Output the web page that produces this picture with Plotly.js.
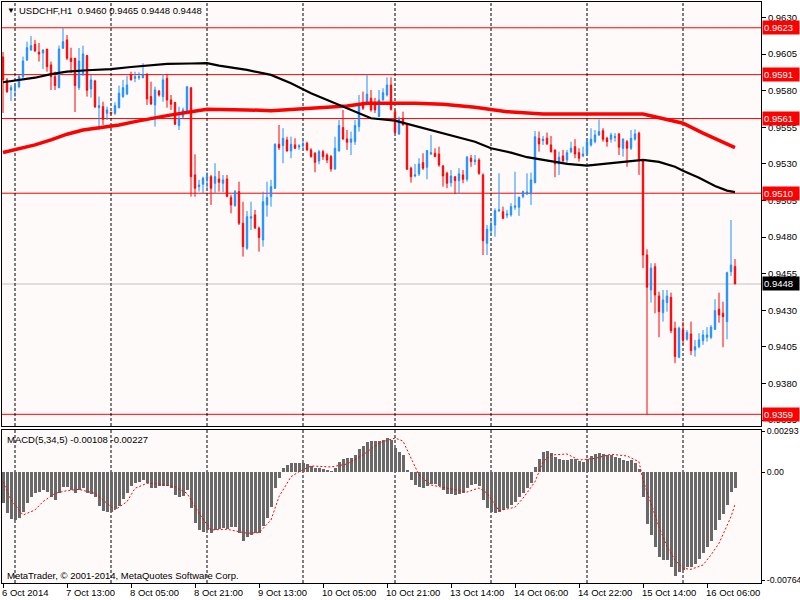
<!DOCTYPE html>
<html><head><meta charset="utf-8">
<script src="https://cdn.plot.ly/plotly-3.0.1.min.js"></script>
<style>html,body{margin:0;padding:0;background:#fff}#chart{width:800px;height:600px}</style>
</head><body><div id="chart"></div>
<script>
const open = [0.96031,0.95874,0.95805,0.95822,0.95828,0.95896,0.96010,0.96079,0.96117,0.96063,
0.96058,0.96085,0.95976,0.95896,0.95821,0.96090,0.96147,0.96022,0.96022,0.95821,
0.95908,0.96040,0.95812,0.95867,0.95684,0.95691,0.95646,0.95653,0.95646,0.95684,
0.95760,0.95778,0.95908,0.95885,0.95889,0.95889,0.95913,0.95760,0.95703,0.95798,
0.95760,0.95885,0.95737,0.95721,0.95562,0.95623,0.95653,0.95821,0.95225,0.95145,
0.95161,0.95202,0.95213,0.95168,0.95197,0.95168,0.95197,0.95070,0.95015,0.95111,
0.94895,0.94724,0.94929,0.94952,0.94861,0.94781,0.95020,0.95077,0.95134,0.95434,
0.95425,0.95464,0.95389,0.95430,0.95416,0.95425,0.95441,0.95396,0.95373,0.95320,
0.95384,0.95361,0.95350,0.95266,0.95389,0.95548,0.95471,0.95448,0.95452,0.95555,
0.95721,0.95708,0.95749,0.95717,0.95623,0.95737,0.95771,0.95839,0.95657,0.95505,
0.95612,0.95573,0.95271,0.95218,0.95232,0.95309,0.95277,0.95368,0.95373,0.95368,
0.95286,0.95236,0.95172,0.95213,0.95186,0.95225,0.95195,0.95339,0.95316,0.95327,
0.95225,0.94758,0.94844,0.94883,0.94979,0.94974,0.94950,0.94952,0.95004,0.95004,
0.95077,0.95095,0.95095,0.95172,0.95475,0.95459,0.95475,0.95430,0.95396,0.95300,
0.95355,0.95327,0.95384,0.95418,0.95377,0.95355,0.95368,0.95430,0.95452,0.95498,
0.95527,0.95475,0.95469,0.95480,0.95505,0.95407,0.95452,0.95407,0.95469,0.95510,
0.95322,0.94678,0.94439,0.94598,0.94398,0.94284,0.94353,0.94389,0.94178,0.93980,
0.94166,0.94103,0.94139,0.94029,0.94052,0.94093,0.94116,0.94116,0.94171,0.94308,
0.94280,0.94223,0.94564,0.94600];
const high = [0.96065,0.95887,0.95839,0.95839,0.95908,0.96033,0.96135,0.96174,0.96147,0.96126,
0.96079,0.96085,0.95999,0.95930,0.96108,0.96227,0.96181,0.96094,0.96024,0.96092,
0.96108,0.96044,0.95908,0.95874,0.95760,0.95725,0.95691,0.95655,0.95721,0.95835,
0.95874,0.95903,0.95930,0.95930,0.95926,0.95988,0.95919,0.95862,0.95828,0.95805,
0.95913,0.95913,0.95771,0.95721,0.95691,0.95684,0.95828,0.95821,0.95366,0.95191,
0.95213,0.95243,0.95225,0.95305,0.95252,0.95225,0.95225,0.95088,0.95122,0.95179,
0.95042,0.94979,0.95042,0.94986,0.94872,0.95111,0.95179,0.95191,0.95441,0.95566,
0.95544,0.95486,0.95486,0.95475,0.95434,0.95464,0.95452,0.95407,0.95380,0.95396,
0.95396,0.95373,0.95361,0.95486,0.95600,0.95669,0.95532,0.95521,0.95600,0.95771,
0.95794,0.95910,0.95805,0.95751,0.95805,0.95817,0.95892,0.95892,0.95669,0.95623,
0.95657,0.95578,0.95281,0.95300,0.95339,0.95373,0.95391,0.95498,0.95407,0.95418,
0.95293,0.95247,0.95259,0.95213,0.95271,0.95259,0.95355,0.95361,0.95361,0.95339,
0.95236,0.94883,0.94922,0.94997,0.95236,0.95008,0.94986,0.95032,0.95247,0.95077,
0.95118,0.95236,0.95241,0.95525,0.95521,0.95491,0.95514,0.95491,0.95396,0.95384,
0.95396,0.95396,0.95452,0.95469,0.95407,0.95418,0.95469,0.95544,0.95532,0.95605,
0.95544,0.95486,0.95514,0.95510,0.95510,0.95475,0.95464,0.95532,0.95537,0.95521,
0.95327,0.94717,0.94622,0.94622,0.94428,0.94439,0.94439,0.94421,0.94223,0.94189,
0.94223,0.94166,0.94223,0.94098,0.94144,0.94166,0.94185,0.94200,0.94376,0.94421,
0.94359,0.94564,0.94917,0.94650];
const low = [0.95648,0.95785,0.95730,0.95758,0.95817,0.95885,0.96003,0.96072,0.96065,0.95999,
0.95949,0.95930,0.95805,0.95805,0.95817,0.96085,0.96010,0.95921,0.95655,0.95805,
0.95903,0.95760,0.95753,0.95682,0.95532,0.95566,0.95600,0.95639,0.95635,0.95680,
0.95751,0.95771,0.95870,0.95858,0.95874,0.95885,0.95703,0.95703,0.95555,0.95760,
0.95725,0.95684,0.95669,0.95566,0.95532,0.95612,0.95646,0.95077,0.95077,0.95111,
0.95100,0.95134,0.95020,0.95100,0.95111,0.95107,0.95077,0.94963,0.95008,0.94883,
0.94667,0.94713,0.94849,0.94861,0.94701,0.94735,0.94940,0.95008,0.95129,0.95396,
0.95305,0.95384,0.95339,0.95402,0.95396,0.95407,0.95389,0.95343,0.95243,0.95298,
0.95327,0.95305,0.95247,0.95259,0.95384,0.95464,0.95396,0.95361,0.95430,0.95521,
0.95669,0.95703,0.95657,0.95648,0.95621,0.95732,0.95760,0.95664,0.95510,0.95498,
0.95563,0.95259,0.95172,0.95209,0.95218,0.95259,0.95195,0.95361,0.95346,0.95281,
0.95145,0.95134,0.95145,0.95095,0.95095,0.95168,0.95179,0.95281,0.95293,0.95225,
0.94678,0.94678,0.94815,0.94803,0.94974,0.94922,0.94929,0.94940,0.94986,0.94945,
0.95066,0.95088,0.95020,0.95168,0.95384,0.95430,0.95430,0.95377,0.95209,0.95225,
0.95309,0.95305,0.95373,0.95339,0.95316,0.95346,0.95361,0.95418,0.95441,0.95491,
0.95452,0.95418,0.95445,0.95452,0.95361,0.95350,0.95281,0.95396,0.95459,0.95225,
0.94588,0.93590,0.94353,0.94280,0.94116,0.94223,0.94291,0.94144,0.93939,0.93973,
0.94064,0.94093,0.93995,0.93984,0.94041,0.94064,0.94086,0.94103,0.94166,0.94216,
0.94048,0.94103,0.94535,0.94480];
const close = [0.95874,0.95794,0.95821,0.95828,0.95896,0.96003,0.96094,0.96108,0.96072,0.96051,
0.96079,0.95964,0.95896,0.95835,0.96085,0.96135,0.96022,0.95999,0.95835,0.96003,
0.96051,0.95803,0.95874,0.95691,0.95698,0.95605,0.95669,0.95641,0.95698,0.95783,
0.95821,0.95839,0.95874,0.95896,0.95896,0.95908,0.95744,0.95710,0.95805,0.95771,
0.95874,0.95737,0.95708,0.95571,0.95612,0.95669,0.95828,0.95213,0.95134,0.95156,
0.95202,0.95213,0.95134,0.95213,0.95175,0.95191,0.95077,0.95020,0.95111,0.94895,
0.94735,0.94940,0.94940,0.94861,0.94797,0.95042,0.95070,0.95145,0.95434,0.95411,
0.95475,0.95389,0.95434,0.95407,0.95423,0.95434,0.95396,0.95350,0.95311,0.95384,
0.95350,0.95327,0.95266,0.95407,0.95562,0.95471,0.95448,0.95471,0.95562,0.95714,
0.95680,0.95776,0.95669,0.95669,0.95737,0.95787,0.95839,0.95673,0.95514,0.95612,
0.95566,0.95264,0.95213,0.95225,0.95300,0.95271,0.95391,0.95377,0.95350,0.95293,
0.95218,0.95168,0.95218,0.95186,0.95232,0.95195,0.95346,0.95316,0.95327,0.95236,
0.94776,0.94854,0.94876,0.94981,0.94986,0.94929,0.94958,0.95008,0.95013,0.95072,
0.95111,0.95109,0.95191,0.95486,0.95437,0.95469,0.95437,0.95384,0.95300,0.95346,
0.95322,0.95377,0.95407,0.95368,0.95339,0.95368,0.95452,0.95469,0.95498,0.95521,
0.95469,0.95452,0.95498,0.95486,0.95414,0.95469,0.95407,0.95475,0.95505,0.95322,
0.94678,0.94458,0.94588,0.94405,0.94291,0.94371,0.94398,0.94161,0.93984,0.94178,
0.94098,0.94148,0.94025,0.94052,0.94098,0.94132,0.94132,0.94185,0.94298,0.94269,
0.94257,0.94557,0.94610,0.94480];

// moving averages, read at sample bars
const redMaBar = [0,4,8,12,16,20,24,29,33,37,41,47,51,61,67,73,79,86,91,103,110,118,126,135,160,165,170,175,179,183];
const redMaVal = [0.95378,0.95402,0.95430,0.95464,0.95503,0.95532,0.95548,0.95566,0.95589,0.95612,0.95630,0.95657,0.95673,0.95669,0.95664,0.95673,0.95684,0.95696,0.95714,0.95714,0.95708,0.95687,0.95657,0.95641,0.95641,0.95612,0.95578,0.95510,0.95459,0.95411];
const blackMaBar = [0,4,8,12,16,21,27,32,37,41,47,51,54,61,67,72,77,82,87,92,98,103,108,113,118,122,127,131,135,141,146,153,160,164,168,170,174,178,181,183];
const blackMaVal = [0.95858,0.95874,0.95889,0.95913,0.95930,0.95940,0.95947,0.95962,0.95971,0.95983,0.95986,0.95988,0.95971,0.95942,0.95908,0.95851,0.95783,0.95725,0.95669,0.95612,0.95596,0.95559,0.95527,0.95486,0.95452,0.95407,0.95377,0.95346,0.95327,0.95300,0.95288,0.95309,0.95327,0.95314,0.95281,0.95254,0.95206,0.95150,0.95118,0.95107];

// MACD(5,34,5)
const macdHist = [-0.00216,-0.00286,-0.00333,-0.00338,-0.00326,-0.00279,-0.00216,-0.00177,-0.00149,-0.00138,
-0.00125,-0.00138,-0.00173,-0.00196,-0.00149,-0.00102,-0.00102,-0.00125,-0.00145,-0.00125,
-0.00113,-0.00149,-0.00154,-0.00177,-0.00239,-0.00272,-0.00279,-0.00279,-0.00262,-0.00239,
-0.00191,-0.00145,-0.00097,-0.00078,-0.00067,-0.00055,-0.00074,-0.00113,-0.00113,-0.00097,
-0.00097,-0.00097,-0.00113,-0.00161,-0.00177,-0.00168,-0.00125,-0.00255,-0.00357,-0.00409,
-0.00421,-0.00409,-0.00428,-0.00409,-0.00404,-0.00397,-0.00404,-0.00386,-0.00390,-0.00432,
-0.00485,-0.00457,-0.00445,-0.00432,-0.00432,-0.00381,-0.00326,-0.00244,-0.00113,-0.00043,
0.00028,0.00052,0.00068,0.00068,0.00068,0.00066,0.00059,0.00045,0.00030,0.00030,
0.00023,0.00016,0.00009,0.00030,0.00073,0.00094,0.00101,0.00101,0.00123,0.00165,
0.00186,0.00215,0.00222,0.00222,0.00222,0.00229,0.00243,0.00229,0.00172,0.00144,
0.00123,0.00016,-0.00055,-0.00090,-0.00104,-0.00111,-0.00097,-0.00083,-0.00083,-0.00097,
-0.00125,-0.00154,-0.00154,-0.00161,-0.00154,-0.00147,-0.00111,-0.00090,-0.00083,-0.00097,
-0.00196,-0.00253,-0.00281,-0.00289,-0.00281,-0.00267,-0.00255,-0.00232,-0.00208,-0.00177,
-0.00145,-0.00113,-0.00074,0.00040,0.00094,0.00142,0.00151,0.00135,0.00106,0.00092,
0.00087,0.00087,0.00092,0.00092,0.00082,0.00075,0.00092,0.00116,0.00130,0.00135,
0.00130,0.00123,0.00123,0.00111,0.00099,0.00087,0.00082,0.00087,0.00068,0.00021,
-0.00177,-0.00367,-0.00445,-0.00532,-0.00603,-0.00622,-0.00622,-0.00669,-0.00733,-0.00705,
-0.00693,-0.00669,-0.00669,-0.00650,-0.00617,-0.00574,-0.00532,-0.00485,-0.00409,-0.00338,
-0.00296,-0.00232,-0.00138,-0.00108];
const signalBar = [0,2,5,8,10,13,16,19,23,26,28,31,33,36,39,43,46,49,52,56,61,64,67,69,72,74,77,82,86,90,94,98,100,102,104,107,112,116,119,121,124,128,130,133,135,137,141,144,148,152,156,159,160,162,164,166,168,170,172,175,177,179,182,183];
const signalVal = [-0.00067,-0.00196,-0.00303,-0.00267,-0.00208,-0.00149,-0.00130,-0.00121,-0.00149,-0.00220,-0.00267,-0.00208,-0.00113,-0.00078,-0.00083,-0.00102,-0.00149,-0.00291,-0.00409,-0.00404,-0.00432,-0.00428,-0.00338,-0.00173,-0.00031,0.00004,0.00045,0.00038,0.00059,0.00123,0.00208,0.00243,0.00222,0.00101,-0.00019,-0.00090,-0.00118,-0.00140,-0.00111,-0.00147,-0.00272,-0.00248,-0.00184,-0.00067,0.00075,0.00123,0.00130,0.00087,0.00099,0.00128,0.00116,0.00075,-0.00055,-0.00220,-0.00386,-0.00527,-0.00622,-0.00681,-0.00688,-0.00657,-0.00586,-0.00503,-0.00315,-0.00227];

// axes / labels
const xTickBars = [0,16,32,48,64,80,96,112,128,144,160,176];
const xTickLabels = ['6 Oct 2014','7 Oct 13:00','8 Oct 05:00','8 Oct 21:00','9 Oct 13:00','10 Oct 05:00','10 Oct 21:00','13 Oct 14:00','14 Oct 06:00','14 Oct 22:00','15 Oct 14:00','16 Oct 06:00'];
const daySepBars = [3,27,51,75,98,122,146,170];
const priceTicks = [0.9630,0.9605,0.9580,0.9555,0.9530,0.9505,0.9480,0.9455,0.9430,0.9405,0.9380,0.9355];
const levels = [0.9623,0.9591,0.9561,0.9510,0.9359];
const bidPrice = 0.9448;
const macdTicks = [0.00293,0,-0.00764];
const macdTickText = ['0.00293','0.00','-0.00764'];
const headerText = 'USDCHF,H1  0.9460 0.9465 0.9448 0.9448';
const macdText = 'MACD(5,34,5) -0.00108 -0.00227';
const copyText = 'MetaTrader, \u00A9 2001-2014, MetaQuotes Software Corp.';

const bars = open.map((_, i) => i);
const FONT = 'Liberation Sans, Arial, sans-serif';
const FS = 9.5;

const traces = [
  {type:'candlestick', x:bars, open:open, high:high, low:low, close:close, xaxis:'x', yaxis:'y',
   increasing:{line:{color:'#1E90FF', width:1}, fillcolor:'#1E90FF'},
   decreasing:{line:{color:'#FF0000', width:1}, fillcolor:'#FF0000'},
   whiskerwidth:0, hoverinfo:'skip'},
  {type:'scatter', mode:'lines', x:redMaBar, y:redMaVal, xaxis:'x', yaxis:'y', line:{color:'#FF0000', width:3.5}, hoverinfo:'skip'},
  {type:'scatter', mode:'lines', x:blackMaBar, y:blackMaVal, xaxis:'x', yaxis:'y', line:{color:'#000000', width:2.2}, hoverinfo:'skip'},
  {type:'bar', x:bars, y:macdHist, xaxis:'x2', yaxis:'y2', width:0.75, marker:{color:'#696969', line:{width:0}}, hoverinfo:'skip'},
  {type:'scatter', mode:'lines', x:signalBar, y:signalVal, xaxis:'x2', yaxis:'y2', line:{color:'#FF0000', width:1, dash:'2px,2px'}, hoverinfo:'skip'}
];

const shapes = [];
levels.forEach(v => shapes.push({type:'line', layer:'below', xref:'paper', x0:0, x1:1, yref:'y', y0:v, y1:v, line:{color:'#FF0000', width:1}}));
shapes.push({type:'line', layer:'below', xref:'paper', x0:0, x1:1, yref:'y', y0:bidPrice, y1:bidPrice, line:{color:'#C0C0C0', width:1}});
daySepBars.forEach(b => {
  shapes.push({type:'line', layer:'below', xref:'x', x0:b, x1:b, yref:'y domain', y0:0, y1:1, line:{color:'#000000', width:1, dash:'3px,2px'}});
  shapes.push({type:'line', layer:'below', xref:'x2', x0:b, x1:b, yref:'y2 domain', y0:0, y1:1, line:{color:'#000000', width:1, dash:'3px,2px'}});
});

const annotations = [];
annotations.push({xref:'paper', yref:'paper', x:0, y:1, xanchor:'left', yanchor:'middle', xshift:3, yshift:-8, text:'\u25BC', showarrow:false, font:{family:FONT, size:8, color:'#000'}});
annotations.push({xref:'paper', yref:'paper', x:0, y:1, xanchor:'left', yanchor:'middle', xshift:15, yshift:-8, text:headerText, showarrow:false, font:{family:FONT, size:FS, color:'#000'}});
annotations.push({xref:'paper', yref:'paper', x:0, y:0.2633, xanchor:'left', yanchor:'middle', xshift:3, yshift:-9, text:macdText, showarrow:false, font:{family:FONT, size:FS, color:'#000'}});
annotations.push({xref:'paper', yref:'paper', x:0, y:0, xanchor:'left', yanchor:'middle', xshift:3, yshift:8, text:copyText, showarrow:false, font:{family:FONT, size:FS, color:'#000'}});
xTickBars.forEach((b, k) => annotations.push({xref:'x2', yref:'paper', x:b, y:0, xanchor:'left', yanchor:'top', xshift:-3, yshift:-2, text:xTickLabels[k], showarrow:false, font:{family:FONT, size:FS, color:'#000'}}));
levels.forEach(v => annotations.push({xref:'paper', yref:'y', x:1, y:v, xanchor:'left', yanchor:'middle', xshift:1, text:v.toFixed(4), showarrow:false, bgcolor:'#FF0000', borderpad:1, width:34, align:'left', font:{family:FONT, size:FS, color:'#FFFFFF'}}));
annotations.push({xref:'paper', yref:'y', x:1, y:bidPrice, xanchor:'left', yanchor:'middle', xshift:1, text:bidPrice.toFixed(4), showarrow:false, bgcolor:'#000000', borderpad:1, width:34, align:'left', font:{family:FONT, size:FS, color:'#FFFFFF'}});

const layout = {
  width:800, height:600,
  margin:{l:2, r:39, t:2, b:17, pad:0},
  paper_bgcolor:'#FFFFFF', plot_bgcolor:'#FFFAFA',
  showlegend:false, boxgap:0.5, bargap:0,
  font:{family:FONT, size:FS, color:'#000'},
  xaxis:{domain:[0,1], anchor:'y', range:[-0.25,189.5], showline:true, mirror:true, linecolor:'#000', linewidth:1,
         showgrid:false, zeroline:false, showticklabels:false, ticks:'', rangeslider:{visible:false}, fixedrange:true},
  xaxis2:{domain:[0,1], anchor:'y2', range:[-0.25,189.5], showline:true, mirror:true, linecolor:'#000', linewidth:1,
          showgrid:false, zeroline:false, showticklabels:false, ticks:'outside', ticklen:4, tickcolor:'#000',
          tickmode:'array', tickvals:xTickBars, fixedrange:true},
  yaxis:{domain:[0.2702,1], anchor:'x', side:'right', range:[0.93510,0.96406], showline:true, mirror:true, linecolor:'#000', linewidth:1,
         showgrid:false, zeroline:false, ticks:'outside', ticklen:4, tickcolor:'#000', tickmode:'array', tickvals:priceTicks,
         ticktext:priceTicks.map(v => v.toFixed(4)), tickfont:{family:FONT, size:FS, color:'#000'}, fixedrange:true},
  yaxis2:{domain:[0,0.2633], anchor:'x2', side:'right', range:[-0.00785,0.0030], showline:true, mirror:true, linecolor:'#000', linewidth:1,
          showgrid:false, zeroline:false, ticks:'outside', ticklen:3, tickcolor:'#000', tickmode:'array', tickvals:macdTicks,
          ticktext:macdTickText, tickfont:{family:FONT, size:8.8, color:'#000'}, fixedrange:true},
  shapes:shapes, annotations:annotations
};

Plotly.newPlot('chart', traces, layout, {staticPlot:true, displayModeBar:false});
</script>
</body></html>
